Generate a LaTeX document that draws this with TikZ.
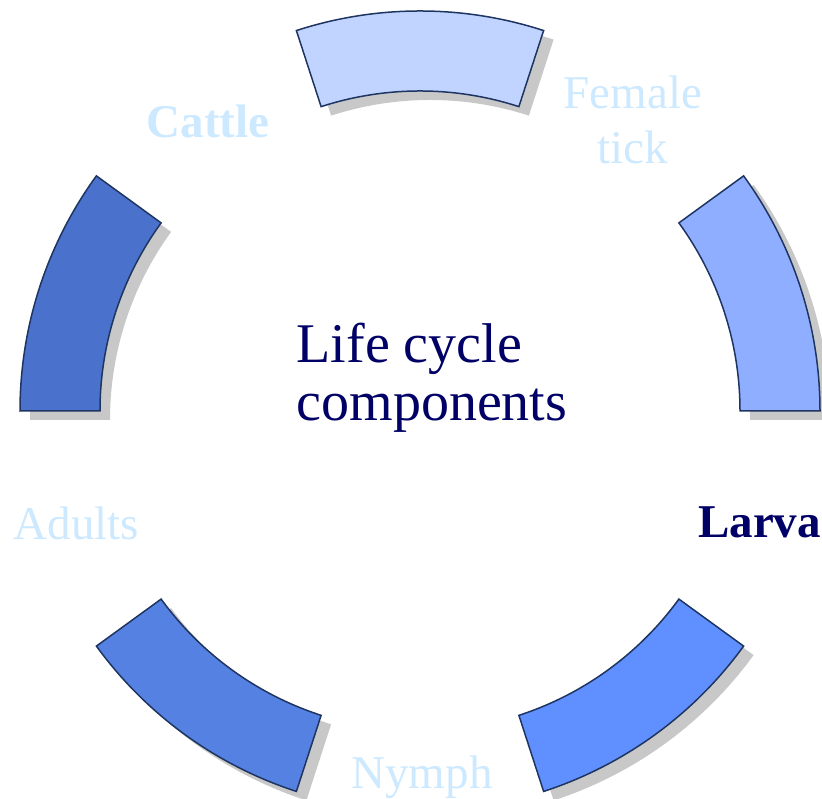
\documentclass[tikz,border=0pt]{standalone}
\usepackage{fontspec}
\setmainfont{Liberation Serif}
\definecolor{edgecol}{HTML}{1F3561}
\definecolor{shadowcol}{HTML}{C8C8C8}
\definecolor{segA}{HTML}{C0D4FF}
\definecolor{segB}{HTML}{8FAEFF}
\definecolor{segC}{HTML}{6090FF}
\definecolor{segD}{HTML}{5582E2}
\definecolor{segE}{HTML}{4A72CC}
\definecolor{lightlab}{HTML}{CCE9FF}
\definecolor{navy}{HTML}{000066}
\begin{document}
\begin{tikzpicture}[x=1pt,y=1pt,
  segment/.style={draw=edgecol,line width=1.5pt,line join=miter},
  segshadow/.style={fill=shadowcol},
  lab/.style={inner sep=0pt,font=\fontsize{47}{55}\selectfont,text=lightlab,align=center},
  centertext/.style={inner sep=0pt,font=\fontsize{56}{58}\selectfont,text=navy,align=left}]
\useasboundingbox (0,0) rectangle (822,799);
\coordinate (c) at (420,388);
% shadows
\foreach \a/\b in {72/108, 0/36, -72/-36, -144/-108, 144/180}{
  \fill[segshadow] ([shift={(10,-9)}]c) ++(\a:400) arc[start angle=\a,end angle=\b,radius=400]
    -- ++(\b+180:80) arc[start angle=\b,end angle=\a,radius=320] -- cycle;
}
% segments
\foreach \a/\b/\col in {72/108/segA, 0/36/segB, -72/-36/segC, -144/-108/segD, 144/180/segE}{
  \draw[segment,fill=\col] (c) ++(\a:400) arc[start angle=\a,end angle=\b,radius=400]
    -- ++(\b+180:80) arc[start angle=\b,end angle=\a,radius=320] -- cycle;
}
% labels
\node[lab,font=\fontsize{47}{55}\selectfont\bfseries] (cattle) at (208,678) {Cattle};
\node[lab] (female) at (633,679) {Female\\tick};
\node[lab,text=navy,font=\fontsize{47}{55}\selectfont\bfseries] (larva) at (759.5,276.5) {Larva};
\node[lab] (nymph) at (422,22) {Nymph};
\node[lab] (adults) at (76.5,276) {Adults};
\node[centertext] (title) at (432,421) {Life cycle\\components};
\end{tikzpicture}
\end{document}
